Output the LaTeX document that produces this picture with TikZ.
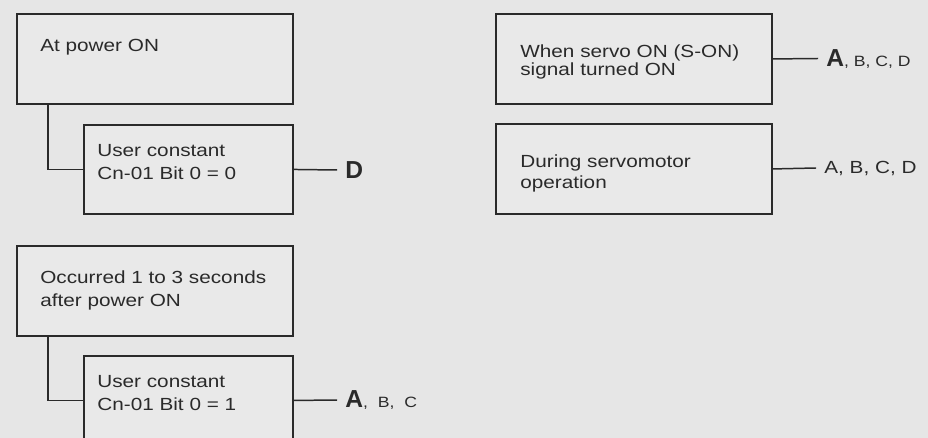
\documentclass[tikz,border=0pt]{standalone}
\usepackage{fontspec}
\setmainfont{Liberation Sans}
\newfontfamily\boxfont[FakeStretch=1.18]{Liberation Sans}
\usetikzlibrary{positioning}

\definecolor{paper}{HTML}{E6E6E6}
\definecolor{boxfill}{HTML}{E9E9E9}
\definecolor{ink}{HTML}{2A2A2A}

\tikzset{
  condbox/.style={draw=ink, line width=1.1pt, fill=boxfill, inner sep=0pt, anchor=north west},
  widebox/.style={condbox, minimum width=5.52cm, minimum height=1.8cm},
  narrowbox/.style={condbox, minimum width=4.18cm, minimum height=1.78cm},
  boxtext/.style={anchor=north west, align=left, inner sep=0pt, text=ink},
  result/.style={anchor=west, inner xsep=0.16cm, inner ysep=0pt, text=ink},
  wire/.style={draw=ink, line width=0.85pt}
}

\newcommand{\bigletter}[1]{{\fontsize{14}{14}\selectfont\bfseries #1}}

\begin{document}
\begin{tikzpicture}[x=0.02cm, y=-0.02cm]
        % Draw background and clip to the page
        \fill[paper] (0,0) rectangle (928,438);
        \useasboundingbox (0,0) rectangle (928,438);
        \clip (0,0) rectangle (928,438);

        % Draw condition boxes on the left
        \node[widebox] (power) at (16,13) {};
        \node[narrowbox] (bitzero) at (83,124) {};
        \node[widebox] (delay) at (16,245) {};
        \node[narrowbox] (bitone) at (83,355) {};

        % Draw condition boxes on the right
        \node[widebox] (servoon) at (495,13) {};
        \node[widebox] (running) at (495,123) {};

        % Box texts
        \node[boxtext, font=\boxfont\fontsize{10}{13}\selectfont] (powertext) at (40,38.5) {At power ON};
        \node[boxtext, font=\boxfont\fontsize{10}{13}\selectfont] (bitzerotext) at (97,144.5) {User constant\\Cn-01 Bit 0 = 0};
        \node[boxtext, font=\boxfont\fontsize{10}{13}\selectfont] (delaytext) at (40,270.5) {Occurred 1 to 3 seconds\\after power ON};
        \node[boxtext, font=\boxfont\fontsize{10}{13}\selectfont] (bitonetext) at (97,375.5) {User constant\\Cn-01 Bit 0 = 1};
        \node[boxtext, font=\boxfont\fontsize{10}{10.3}\selectfont] (servoontext) at (520,44.5) {When servo ON (S-ON)\\signal turned ON};
        \node[boxtext, font=\boxfont\fontsize{10}{12}\selectfont] (runningtext) at (520,154.5) {During servomotor\\operation};

        % Result letters
        \node[result] (resD) at (337,170) {\bigletter{D}};
        \node[result] (resABC) at (337,400) {\bigletter{A}{\boxfont\fontsize{8.5}{8.5}\selectfont,\ \ B,\ \ C}};
        \node[result] (resservo) at (818,58.5) {\bigletter{A}{\boxfont\fontsize{8.5}{8.5}\selectfont,\ B,\ C,\ D}};
        \node[result, font=\boxfont\fontsize{10}{10}\selectfont] (resrun) at (816,168) {A,\ B,\ C,\ D};

        % Draw connectors
        \draw[wire] (power.south west) ++(32,0) |- (bitzero.west);
        \draw[wire] (delay.south west) ++(32,0) |- (bitone.west);
        \draw[wire] (bitzero.east) -- (resD.west);
        \draw[wire] (bitone.east) -- (resABC.west);
        \draw[wire] (servoon.east) -- (resservo.west);
        \draw[wire] (running.east) -- (resrun.west);
    \end{tikzpicture}
\end{document}
